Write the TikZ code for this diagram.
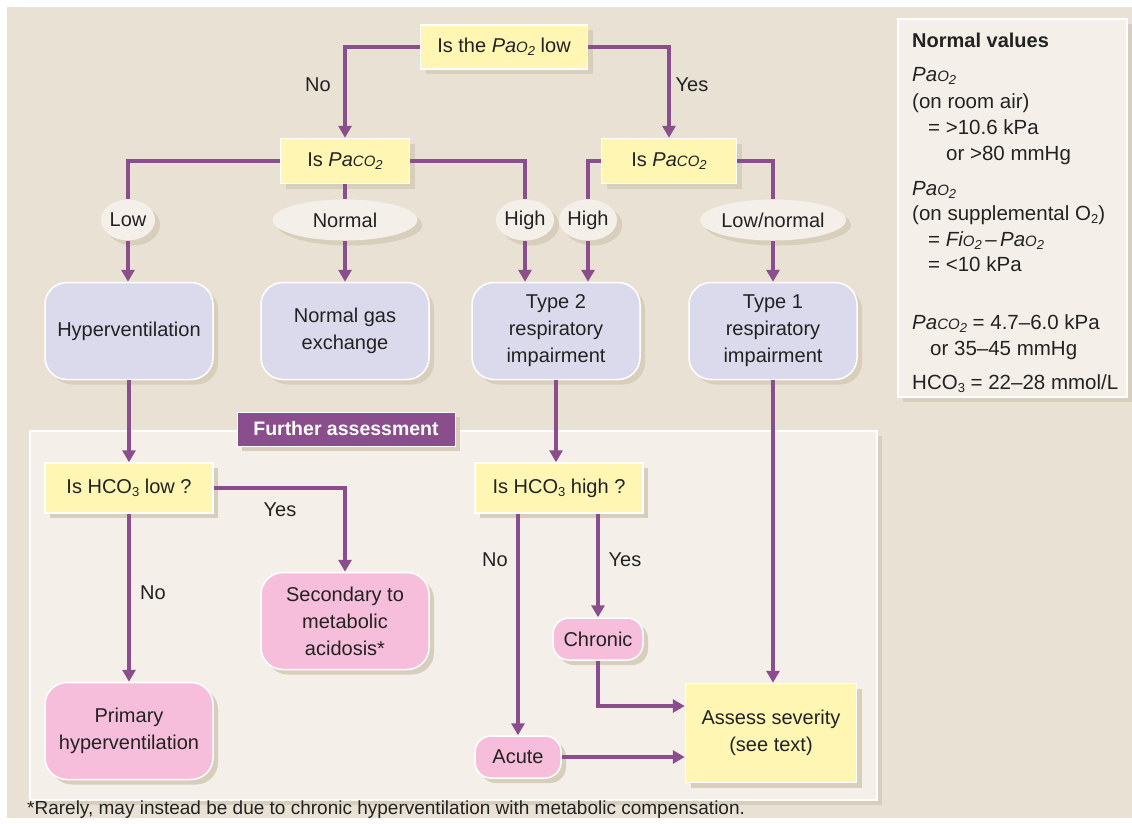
\documentclass[tikz,border=0pt]{standalone}
\usepackage{fontspec}
\setmainfont{Liberation Sans}
\usetikzlibrary{arrows.meta,shapes.geometric,shadows}
\definecolor{bg}{HTML}{E9E1D4}
\definecolor{panel}{HTML}{F4F0E9}
\definecolor{ylw}{HTML}{FFF6B4}
\definecolor{lav}{HTML}{DADAEC}
\definecolor{pnk}{HTML}{F6BEDA}
\definecolor{prp}{HTML}{8A4E8C}
\definecolor{shdc}{HTML}{D8CEBC}
\definecolor{txt}{HTML}{222222}
\newcommand\smc[1]{{\fontsize{15}{15}\selectfont #1}}
\newcommand\sbs[1]{\raisebox{-0.3ex}{\fontsize{13}{13}\selectfont #1}}
\begin{document}
\begin{tikzpicture}[x=1pt,y=-1pt,
  font=\fontsize{20}{27}\selectfont,
  shd/.style={drop shadow={fill=shdc,opacity=1,shadow xshift=5pt,shadow yshift=-5pt}},
  qbox/.style={draw=white,line width=1.5pt,fill=ylw,shd,minimum height=44pt,inner sep=0pt,text=txt,align=center},
  lbox/.style={draw=white,line width=1.5pt,fill=lav,rounded corners=22pt,shd,minimum width=168pt,minimum height=97pt,inner sep=0pt,align=center,text=txt},
  pbox/.style={lbox,fill=pnk},
  oval/.style={ellipse,fill=panel,shd,inner sep=0pt,minimum height=41pt,text=txt},
  arr/.style={prp,line width=3.5pt,-{Triangle[width=13pt,length=12pt]}},
  ln/.style={prp,line width=3.5pt},
  lbl/.style={text=txt},
  nv/.style={anchor=base west,inner sep=0pt,text=txt,font=\fontsize{20.5}{24}\selectfont}
]
\useasboundingbox (0,0) rectangle (1132,823);
\fill[white] (0,0) rectangle (1132,823);
\fill[bg] (7,7) rectangle (1132,818);

% top question
\node[qbox,minimum width=167pt] (q1) at (504,47) {Is the \textit{Pa\smc{O}\sbs{2}} low};
\node[qbox,minimum width=129pt,minimum height=45pt] (pc1) at (345,161) {Is \textit{Pa\smc{CO}\sbs{2}}};
\node[qbox,minimum width=135pt,minimum height=45pt] (pc2) at (669,161) {Is \textit{Pa\smc{CO}\sbs{2}}};

\draw[arr] (q1.west) -| (pc1.north);
\node[lbl] (no1) at (318,85) {No};
\draw[arr] (q1.east) -| (pc2.north);
\node[lbl] (yes1) at (692,85) {Yes};

% ovals
\node[oval,minimum width=54pt] (low) at (128,220) {Low};
\node[oval,minimum width=145pt] (norm) at (345,220) {Normal};
\node[oval,minimum width=50pt] (hi1) at (525,220) {High};
\node[oval,minimum width=50pt] (hi2) at (588,220) {High};
\node[oval,minimum width=145pt] (lown) at (773,220) {Low/normal};

\draw[ln] (pc1.west) -| (low.north);
\draw[ln] (pc1.south) -- (norm.north);
\draw[ln] (pc1.east) -| (hi1.north);
\draw[ln] (pc2.west) -| (hi2.north);
\draw[ln] (pc2.east) -| (lown.north);

% outcome boxes
\node[lbox] (hyp) at (129,331) {Hyperventilation};
\node[lbox] (nge) at (345,331) {Normal gas\\exchange};
\node[lbox] (t2) at (556,331) {Type 2\\respiratory\\impairment};
\node[lbox] (t1) at (773,331) {Type 1\\respiratory\\impairment};

\draw[arr] (low.south) -- (low.south |- hyp.north);
\draw[arr] (norm.south) -- (norm.south |- nge.north);
\draw[arr] (hi1.south) -- (hi1.south |- t2.north);
\draw[arr] (hi2.south) -- (hi2.south |- t2.north);
\draw[arr] (lown.south) -- (lown.south |- t1.north);

% further assessment panel
\draw[white,line width=2pt,fill=panel,shd] (30,431) rectangle (877,800);
\node[fill=prp,draw=white,line width=1pt,text=white,font=\fontsize{19.5}{22}\selectfont\bfseries,minimum width=218pt,minimum height=34pt,inner sep=0pt,shd] (fa) at (346,429) {Further assessment};

\node[qbox,minimum width=168pt,minimum height=50pt] (h1) at (129,488) {Is HCO\sbs{3} low ?};
\node[qbox,minimum width=168pt,minimum height=50pt] (h2) at (559,488) {Is HCO\sbs{3} high ?};

\node[pbox] (sec) at (345,621) {Secondary to\\metabolic\\acidosis*};
\node[pbox] (prim) at (129,731) {Primary\\hyperventilation};
\node[pbox,minimum width=90pt,minimum height=42pt,rounded corners=16pt] (chr) at (598,639) {Chronic};
\node[pbox,minimum width=86pt,minimum height=42pt,rounded corners=16pt] (acu) at (518,757) {Acute};
\node[qbox,minimum width=171pt,minimum height=99pt] (ass) at (771,733) {Assess severity\\(see text)};

\draw[arr] (hyp.south) -- (hyp.south |- h1.north);
\draw[arr] (h1.east) -| (sec.north);
\node[lbl] (yes2) at (280,510) {Yes};
\draw[arr] (h1.south) -- (prim.north);
\node[lbl] (no2) at (153,593) {No};

\draw[arr] (t2.south) -- (t2.south |- h2.north);
\draw[arr] (h2.south -| acu) -- (acu.north);
\node[lbl] (no3) at (495,560) {No};
\draw[arr] (h2.south -| chr) -- (chr.north);
\node[lbl] (yes3) at (625,560) {Yes};
\draw[arr] (chr.south) |- ([yshift=27pt]ass.west);
\draw[arr] (acu.east) -- (acu.east -| ass.west);
\draw[arr] (t1.south) -- (t1.south |- ass.north);

\node[anchor=west,inner sep=0pt,text=txt,font=\fontsize{19}{22}\selectfont] (fn) at (27,810) {*Rarely, may instead be due to chronic hyperventilation with metabolic compensation.};

% normal values box
\node[draw=white,line width=1.5pt,fill=panel,shd,minimum width=229pt,minimum height=378pt,anchor=north west,inner sep=0pt] (nvbox) at (897,18) {};
\node[nv,font=\fontsize{20}{24}\selectfont\bfseries] (nv1) at (912,47) {Normal values};
\node[nv] (nv2) at (912,81) {\textit{Pa\smc{O}\sbs{2}}};
\node[nv] (nv3) at (912,108) {(on room air)};
\node[nv] (nv4) at (928,134) {= >10.6 kPa};
\node[nv] (nv5) at (946,160) {or >80 mmHg};
\node[nv] (nv6) at (912,195) {\textit{Pa\smc{O}\sbs{2}}};
\node[nv] (nv7) at (912,220) {(on supplemental O\sbs{2})};
\node[nv] (nv8) at (928,246) {= \textit{Fi\smc{O}\sbs{2}}\,–\,\textit{Pa\smc{O}\sbs{2}}};
\node[nv] (nv9) at (928,271) {= <10 kPa};
\node[nv] (nv10) at (912,329) {\textit{Pa\smc{CO}\sbs{2}} = 4.7–6.0 kPa};
\node[nv] (nv11) at (930,355) {or 35–45 mmHg};
\node[nv] (nv12) at (912,389) {HCO\sbs{3} = 22–28 mmol/L};
\end{tikzpicture}
\end{document}
